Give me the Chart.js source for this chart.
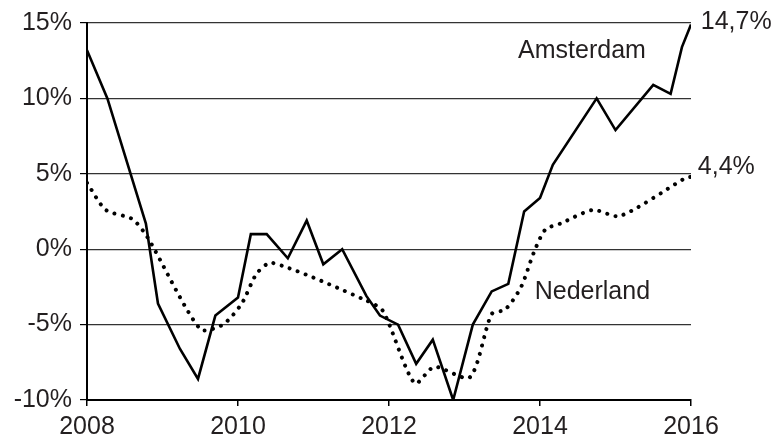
<!DOCTYPE html>
<html>
<head>
<meta charset="utf-8">
<script src="https://cdn.jsdelivr.net/npm/chart.js@4/dist/chart.umd.min.js"></script>
<style>
  html, body { margin: 0; padding: 0; background: #fff; }
  #wrap { width: 776px; height: 443px; }
</style>
</head>
<body>
<div id="wrap"><canvas id="prijsChart" width="776" height="443"></canvas></div>
<script>
// jaar (decimaal) en procentuele verandering
const amsterdamJaar = [2008.0, 2008.27, 2008.78, 2008.94, 2009.23, 2009.47, 2009.7, 2010.0, 2010.17, 2010.38,
    2010.66, 2010.91, 2011.13, 2011.38, 2011.7, 2011.88, 2012.12, 2012.36, 2012.58, 2012.85,
    2013.11, 2013.36, 2013.58, 2013.79, 2014.0, 2014.17, 2014.75, 2015.0, 2015.5, 2015.73, 2015.88, 2016.0];
const amsterdamWaarde = [13.2, 10.0, 1.7, -3.6, -6.6, -8.6, -4.4, -3.2, 1.0, 1.0,
    -0.6, 1.9, -1.0, 0.0, -3.1, -4.4, -5.0, -7.6, -6.0, -10.0,
    -5.0, -2.8, -2.3, 2.5, 3.4, 5.6, 10.0, 7.9, 10.9, 10.3, 13.4, 14.9];

const nederlandJaar = [2008.0, 2008.25, 2008.6, 2008.8, 2009.5, 2009.8, 2010.05, 2010.25, 2010.45, 2011.7,
    2011.92, 2012.34, 2012.6, 2013.07, 2013.36, 2013.54, 2013.75, 2013.92, 2014.07, 2014.27,
    2014.7, 2015.06, 2015.92, 2016.0];
const nederlandWaarde = [4.4, 2.6, 2.0, 0.8, -5.3, -5.0, -3.6, -1.6, -0.9, -3.4,
    -4.1, -8.9, -7.8, -8.5, -4.3, -4.0, -2.5, -0.2, 1.3, 1.7,
    2.6, 2.2, 4.7, 4.8];

const xTicks = [2008, 2010, 2012, 2014, 2016];
const yTicks = [-10, -5, 0, 5, 10, 15];

// tekstlabels in de grafiek: [tekst, jaar, waarde]
const labels = [
    ['Amsterdam', 2013.71, 12.65],
    ['14,7%', 2016.13, 14.6],
    ['4,4%', 2016.09, 5.0],
    ['Nederland', 2013.93, -3.3]
];

const tekstKleur = '#231f20';
const lettertype = "'Liberation Sans', Arial, sans-serif";

const labelPlugin = {
    id: 'labelPlugin',
    afterDraw(chart) {
        const ctx = chart.ctx;
        const xs = chart.scales.x, ys = chart.scales.y;
        ctx.save();
        ctx.fillStyle = tekstKleur;
        ctx.font = '25px ' + lettertype;
        ctx.textAlign = 'left';
        ctx.textBaseline = 'alphabetic';
        labels.forEach(l => {
            ctx.fillText(l[0], xs.getPixelForValue(l[1]), ys.getPixelForValue(l[2]));
        });
        ctx.restore();
    }
};

new Chart(document.getElementById('prijsChart'), {
    type: 'line',
    data: {
        datasets: [
            {
                label: 'Amsterdam',
                data: amsterdamJaar.map((j, i) => ({ x: j, y: amsterdamWaarde[i] })),
                borderColor: '#000',
                borderWidth: 2.6,
                pointRadius: 0,
                tension: 0,
                borderJoinStyle: 'miter'
            },
            {
                label: 'Nederland',
                data: nederlandJaar.map((j, i) => ({ x: j, y: nederlandWaarde[i] })),
                borderColor: '#000',
                borderWidth: 4,
                borderDash: [0.01, 8.5],
                borderCapStyle: 'round',
                pointRadius: 0,
                tension: 0.25
            }
        ]
    },
    options: {
        responsive: false,
        animation: false,
        layout: { padding: { left: 0, right: 85, top: 22, bottom: 0 } },
        plugins: { legend: { display: false }, tooltip: { enabled: false } },
        scales: {
            x: {
                type: 'linear',
                min: 2008,
                max: 2016,
                afterFit: s => { s.height = 43; },
                afterBuildTicks: s => { s.ticks = xTicks.map(v => ({ value: v })); },
                grid: { drawOnChartArea: false, drawTicks: true, tickLength: 6, color: '#000', lineWidth: 1.5 },
                border: { color: '#000', width: 2 },
                ticks: {
                    color: tekstKleur,
                    font: { family: lettertype, size: 25 },
                    padding: 6,
                    maxRotation: 0,
                    callback: v => String(v)
                }
            },
            y: {
                min: -10,
                max: 15,
                afterFit: s => { s.width = 87; },
                afterBuildTicks: s => { s.ticks = yTicks.map(v => ({ value: v })); },
                grid: {
                    color: '#333',
                    lineWidth: 1.2,
                    tickLength: 7,
                    tickColor: '#000'
                },
                border: { color: '#000', width: 2 },
                ticks: {
                    color: tekstKleur,
                    font: { family: lettertype, size: 25 },
                    padding: 8,
                    callback: v => v + '%'
                }
            }
        }
    },
    plugins: [labelPlugin]
});
</script>
</body>
</html>
